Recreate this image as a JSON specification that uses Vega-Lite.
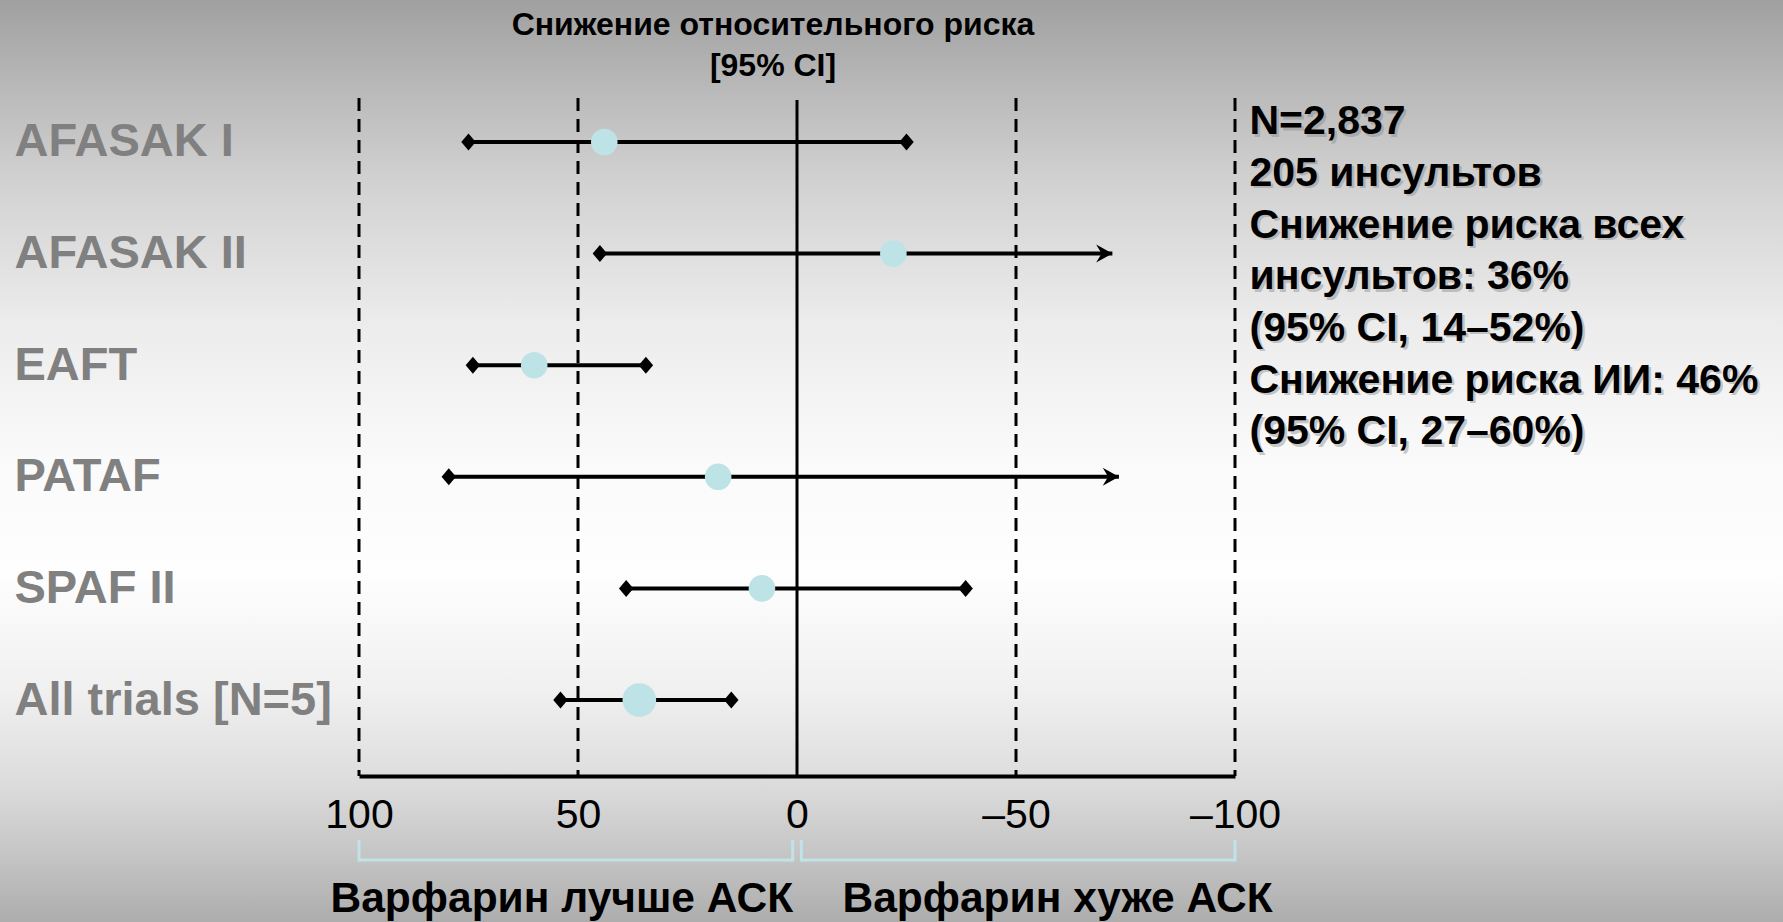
{
  "$schema": "https://vega.github.io/schema/vega-lite/v6.json",
  "width": 876,
  "height": 646,
  "autosize": {"type": "none"},
  "padding": {"left": 359, "top": 98, "right": 548, "bottom": 178},
  "config": {
    "font": "Liberation Sans",
    "view": {"stroke": null}
  },
  "title": {
    "text": ["Снижение относительного риска", "[95% CI]"],
    "font": "Liberation Sans",
    "fontSize": 32,
    "fontWeight": "bold",
    "color": "#000000",
    "anchor": "middle",
    "frame": "group",
    "lineHeight": 40.7,
    "offset": -83,
    "dx": -24
  },
  "datasets": {
    "trials": [
      {"trial": "AFASAK I", "est": 44, "lo": 75, "hi": -25, "open": false},
      {"trial": "AFASAK II", "est": -22, "lo": 45, "hi": -72, "open": true},
      {"trial": "EAFT", "est": 60, "lo": 74, "hi": 34.5, "open": false},
      {"trial": "PATAF", "est": 18, "lo": 79.5, "hi": -73.5, "open": true},
      {"trial": "SPAF II", "est": 8, "lo": 39, "hi": -38.5, "open": false},
      {"trial": "All trials [N=5]", "est": 36, "lo": 54, "hi": 15, "open": false}
    ],
    "refs": [{"v": 100}, {"v": 50}, {"v": -50}, {"v": -100}],
    "brackets": [{"from": 100, "to": 1}, {"from": -1, "to": -100}],
    "one": [{}]
  },
  "data": {"name": "trials"},
  "layer": [
    {
      "data": {"name": "one"},
      "mark": {
        "type": "rect",
        "xOffset": -359, "x2Offset": 548, "yOffset": -98, "y2Offset": 178,
        "fill": {
          "gradient": "linear", "x1": 0, "y1": 0, "x2": 0, "y2": 1,
          "stops": [
            {"offset": 0, "color": "#a0a0a0"},
            {"offset": 0.1, "color": "#bababa"},
            {"offset": 0.2, "color": "#d2d2d2"},
            {"offset": 0.35, "color": "#ececec"},
            {"offset": 0.5, "color": "#fafafa"},
            {"offset": 0.62, "color": "#fefefe"},
            {"offset": 0.75, "color": "#f0f0f0"},
            {"offset": 0.85, "color": "#dcdcdc"},
            {"offset": 0.93, "color": "#c4c4c4"},
            {"offset": 1, "color": "#adadad"}
          ]
        }
      },
      "encoding": {
        "x": {"value": 0},
        "x2": {"value": "width"},
        "y": {"value": 0},
        "y2": {"value": "height"}
      }
    },
    {
      "data": {"name": "refs"},
      "mark": {"type": "rule", "color": "#000000", "strokeWidth": 3, "strokeDash": [13, 8], "yOffset": -44, "y2Offset": 76},
      "encoding": {
        "x": {"field": "v", "type": "quantitative",
          "scale": {"domain": [100, -100], "nice": false, "zero": false},
          "axis": {"orient": "bottom", "zindex": 2, "offset": 32, "values": [100, 50, 0, -50, -100], "labelExpr": "datum.value < 0 ? '–' + (-datum.value) : '' + datum.value", "labelFont": "Liberation Sans", "labelFontSize": 41, "labelColor": "#000000", "labelPadding": 19, "ticks": false, "grid": false, "domainColor": "#000000", "domainWidth": 4, "title": null, "labelFlush": false, "labelOverlap": false}},
        "y": {"datum": "AFASAK I", "type": "nominal",
          "scale": {"type": "point", "domain": ["AFASAK I", "AFASAK II", "EAFT", "PATAF", "SPAF II", "All trials [N=5]"], "padding": 0.394},
          "axis": {"orient": "left", "zindex": 2, "labelAlign": "left", "labelPadding": 345, "ticks": false, "domain": false, "grid": false, "title": null, "labelFont": "Liberation Sans", "labelFontSize": 47, "labelFontWeight": "bold", "labelColor": "#808080", "labelLimit": 0, "labelBaseline": "middle"}},
        "y2": {"datum": "All trials [N=5]"}
      }
    },
    {
      "data": {"name": "one"},
      "mark": {"type": "rule", "color": "#000000", "strokeWidth": 3, "yOffset": -42, "y2Offset": 76},
      "encoding": {
        "x": {"datum": 0, "type": "quantitative",
          "axis": {"orient": "bottom", "zindex": 2, "offset": 32, "values": [100, 50, 0, -50, -100], "labelExpr": "datum.value < 0 ? '–' + (-datum.value) : '' + datum.value", "labelFont": "Liberation Sans", "labelFontSize": 41, "labelColor": "#000000", "labelPadding": 19, "ticks": false, "grid": false, "domainColor": "#000000", "domainWidth": 4, "title": null, "labelFlush": false, "labelOverlap": false}},
        "y": {"datum": "AFASAK I", "type": "nominal",
          "axis": {"orient": "left", "zindex": 2, "labelAlign": "left", "labelPadding": 345, "ticks": false, "domain": false, "grid": false, "title": null, "labelFont": "Liberation Sans", "labelFontSize": 47, "labelFontWeight": "bold", "labelColor": "#808080", "labelLimit": 0, "labelBaseline": "middle"}},
        "y2": {"datum": "All trials [N=5]"}
      }
    },
    {
      "mark": {"type": "rule", "color": "#000000", "strokeWidth": 4},
      "encoding": {
        "y": {"field": "trial", "type": "nominal", "sort": null,
          "axis": {"orient": "left", "zindex": 2, "labelAlign": "left", "labelPadding": 345, "ticks": false, "domain": false, "grid": false, "title": null, "labelFont": "Liberation Sans", "labelFontSize": 47, "labelFontWeight": "bold", "labelColor": "#808080", "labelLimit": 0, "labelBaseline": "middle"}},
        "x": {"field": "lo", "type": "quantitative",
          "axis": {"orient": "bottom", "zindex": 2, "offset": 32, "values": [100, 50, 0, -50, -100], "labelExpr": "datum.value < 0 ? '–' + (-datum.value) : '' + datum.value", "labelFont": "Liberation Sans", "labelFontSize": 41, "labelColor": "#000000", "labelPadding": 19, "ticks": false, "grid": false, "domainColor": "#000000", "domainWidth": 4, "title": null, "labelFlush": false, "labelOverlap": false}},
        "x2": {"field": "hi"}
      }
    },
    {
      "mark": {"type": "point", "shape": "M0,-1L0.85,0L0,1L-0.85,0Z", "filled": true, "color": "#000000", "opacity": 1, "size": 289},
      "encoding": {
        "y": {"field": "trial", "type": "nominal", "sort": null,
          "axis": {"orient": "left", "zindex": 2, "labelAlign": "left", "labelPadding": 345, "ticks": false, "domain": false, "grid": false, "title": null, "labelFont": "Liberation Sans", "labelFontSize": 47, "labelFontWeight": "bold", "labelColor": "#808080", "labelLimit": 0, "labelBaseline": "middle"}},
        "x": {"field": "lo", "type": "quantitative",
          "axis": {"orient": "bottom", "zindex": 2, "offset": 32, "values": [100, 50, 0, -50, -100], "labelExpr": "datum.value < 0 ? '–' + (-datum.value) : '' + datum.value", "labelFont": "Liberation Sans", "labelFontSize": 41, "labelColor": "#000000", "labelPadding": 19, "ticks": false, "grid": false, "domainColor": "#000000", "domainWidth": 4, "title": null, "labelFlush": false, "labelOverlap": false}}
      }
    },
    {
      "transform": [{"filter": "!datum.open"}],
      "mark": {"type": "point", "shape": "M0,-1L0.85,0L0,1L-0.85,0Z", "filled": true, "color": "#000000", "opacity": 1, "size": 289},
      "encoding": {
        "y": {"field": "trial", "type": "nominal", "sort": null,
          "axis": {"orient": "left", "zindex": 2, "labelAlign": "left", "labelPadding": 345, "ticks": false, "domain": false, "grid": false, "title": null, "labelFont": "Liberation Sans", "labelFontSize": 47, "labelFontWeight": "bold", "labelColor": "#808080", "labelLimit": 0, "labelBaseline": "middle"}},
        "x": {"field": "hi", "type": "quantitative",
          "axis": {"orient": "bottom", "zindex": 2, "offset": 32, "values": [100, 50, 0, -50, -100], "labelExpr": "datum.value < 0 ? '–' + (-datum.value) : '' + datum.value", "labelFont": "Liberation Sans", "labelFontSize": 41, "labelColor": "#000000", "labelPadding": 19, "ticks": false, "grid": false, "domainColor": "#000000", "domainWidth": 4, "title": null, "labelFlush": false, "labelOverlap": false}}
      }
    },
    {
      "transform": [{"filter": "datum.open"}],
      "mark": {"type": "point", "shape": "M0,0L-1.8,-1L-1.2,0L-1.8,1Z", "filled": true, "color": "#000000", "opacity": 1, "size": 324},
      "encoding": {
        "y": {"field": "trial", "type": "nominal", "sort": null,
          "axis": {"orient": "left", "zindex": 2, "labelAlign": "left", "labelPadding": 345, "ticks": false, "domain": false, "grid": false, "title": null, "labelFont": "Liberation Sans", "labelFontSize": 47, "labelFontWeight": "bold", "labelColor": "#808080", "labelLimit": 0, "labelBaseline": "middle"}},
        "x": {"field": "hi", "type": "quantitative",
          "axis": {"orient": "bottom", "zindex": 2, "offset": 32, "values": [100, 50, 0, -50, -100], "labelExpr": "datum.value < 0 ? '–' + (-datum.value) : '' + datum.value", "labelFont": "Liberation Sans", "labelFontSize": 41, "labelColor": "#000000", "labelPadding": 19, "ticks": false, "grid": false, "domainColor": "#000000", "domainWidth": 4, "title": null, "labelFlush": false, "labelOverlap": false}}
      }
    },
    {
      "mark": {"type": "circle", "color": "#bde3e6", "opacity": 1},
      "encoding": {
        "y": {"field": "trial", "type": "nominal", "sort": null,
          "axis": {"orient": "left", "zindex": 2, "labelAlign": "left", "labelPadding": 345, "ticks": false, "domain": false, "grid": false, "title": null, "labelFont": "Liberation Sans", "labelFontSize": 47, "labelFontWeight": "bold", "labelColor": "#808080", "labelLimit": 0, "labelBaseline": "middle"}},
        "x": {"field": "est", "type": "quantitative",
          "axis": {"orient": "bottom", "zindex": 2, "offset": 32, "values": [100, 50, 0, -50, -100], "labelExpr": "datum.value < 0 ? '–' + (-datum.value) : '' + datum.value", "labelFont": "Liberation Sans", "labelFontSize": 41, "labelColor": "#000000", "labelPadding": 19, "ticks": false, "grid": false, "domainColor": "#000000", "domainWidth": 4, "title": null, "labelFlush": false, "labelOverlap": false}},
        "size": {"condition": {"test": "datum.trial === 'All trials [N=5]'", "value": 1134}, "value": 707}
      }
    },
    {
      "data": {"name": "brackets"},
      "mark": {"type": "rule", "color": "#bfe3e6", "strokeWidth": 3, "yOffset": 160},
      "encoding": {
        "x": {"field": "from", "type": "quantitative",
          "axis": {"orient": "bottom", "zindex": 2, "offset": 32, "values": [100, 50, 0, -50, -100], "labelExpr": "datum.value < 0 ? '–' + (-datum.value) : '' + datum.value", "labelFont": "Liberation Sans", "labelFontSize": 41, "labelColor": "#000000", "labelPadding": 19, "ticks": false, "grid": false, "domainColor": "#000000", "domainWidth": 4, "title": null, "labelFlush": false, "labelOverlap": false}},
        "x2": {"field": "to"},
        "y": {"datum": "All trials [N=5]", "type": "nominal",
          "axis": {"orient": "left", "zindex": 2, "labelAlign": "left", "labelPadding": 345, "ticks": false, "domain": false, "grid": false, "title": null, "labelFont": "Liberation Sans", "labelFontSize": 47, "labelFontWeight": "bold", "labelColor": "#808080", "labelLimit": 0, "labelBaseline": "middle"}}
      }
    },
    {
      "data": {"name": "brackets"},
      "mark": {"type": "rule", "color": "#bfe3e6", "strokeWidth": 3, "yOffset": 140, "y2Offset": 161.5},
      "encoding": {
        "x": {"field": "from", "type": "quantitative",
          "axis": {"orient": "bottom", "zindex": 2, "offset": 32, "values": [100, 50, 0, -50, -100], "labelExpr": "datum.value < 0 ? '–' + (-datum.value) : '' + datum.value", "labelFont": "Liberation Sans", "labelFontSize": 41, "labelColor": "#000000", "labelPadding": 19, "ticks": false, "grid": false, "domainColor": "#000000", "domainWidth": 4, "title": null, "labelFlush": false, "labelOverlap": false}},
        "y": {"datum": "All trials [N=5]", "type": "nominal",
          "axis": {"orient": "left", "zindex": 2, "labelAlign": "left", "labelPadding": 345, "ticks": false, "domain": false, "grid": false, "title": null, "labelFont": "Liberation Sans", "labelFontSize": 47, "labelFontWeight": "bold", "labelColor": "#808080", "labelLimit": 0, "labelBaseline": "middle"}},
        "y2": {"datum": "All trials [N=5]"}
      }
    },
    {
      "data": {"name": "brackets"},
      "mark": {"type": "rule", "color": "#bfe3e6", "strokeWidth": 3, "yOffset": 140, "y2Offset": 161.5},
      "encoding": {
        "x": {"field": "to", "type": "quantitative",
          "axis": {"orient": "bottom", "zindex": 2, "offset": 32, "values": [100, 50, 0, -50, -100], "labelExpr": "datum.value < 0 ? '–' + (-datum.value) : '' + datum.value", "labelFont": "Liberation Sans", "labelFontSize": 41, "labelColor": "#000000", "labelPadding": 19, "ticks": false, "grid": false, "domainColor": "#000000", "domainWidth": 4, "title": null, "labelFlush": false, "labelOverlap": false}},
        "y": {"datum": "All trials [N=5]", "type": "nominal",
          "axis": {"orient": "left", "zindex": 2, "labelAlign": "left", "labelPadding": 345, "ticks": false, "domain": false, "grid": false, "title": null, "labelFont": "Liberation Sans", "labelFontSize": 47, "labelFontWeight": "bold", "labelColor": "#808080", "labelLimit": 0, "labelBaseline": "middle"}},
        "y2": {"datum": "All trials [N=5]"}
      }
    },
    {
      "data": {"name": "one"},
      "mark": {
        "type": "text", "align": "left", "baseline": "alphabetic", "dx": 17, "dy": -5.3,
        "font": "Liberation Sans", "fontSize": 41, "fontWeight": "bold", "color": "#8c8c8c", "opacity": 0.45, "lineHeight": 51.7,
        "text": ["N=2,837", "205 инсультов", "Снижение риска всех", "инсультов: 36%", "(95% CI, 14–52%)", "Снижение риска ИИ: 46%", "(95% CI, 27–60%)"]
      },
      "encoding": {
        "x": {"datum": -100, "type": "quantitative",
          "axis": {"orient": "bottom", "zindex": 2, "offset": 32, "values": [100, 50, 0, -50, -100], "labelExpr": "datum.value < 0 ? '–' + (-datum.value) : '' + datum.value", "labelFont": "Liberation Sans", "labelFontSize": 41, "labelColor": "#000000", "labelPadding": 19, "ticks": false, "grid": false, "domainColor": "#000000", "domainWidth": 4, "title": null, "labelFlush": false, "labelOverlap": false}},
        "y": {"datum": "AFASAK I", "type": "nominal",
          "axis": {"orient": "left", "zindex": 2, "labelAlign": "left", "labelPadding": 345, "ticks": false, "domain": false, "grid": false, "title": null, "labelFont": "Liberation Sans", "labelFontSize": 47, "labelFontWeight": "bold", "labelColor": "#808080", "labelLimit": 0, "labelBaseline": "middle"}}
      }
    },
    {
      "data": {"name": "one"},
      "mark": {
        "type": "text", "align": "left", "baseline": "alphabetic", "dx": 14.5, "dy": -7.8,
        "font": "Liberation Sans", "fontSize": 41, "fontWeight": "bold", "color": "#000000", "lineHeight": 51.7,
        "text": ["N=2,837", "205 инсультов", "Снижение риска всех", "инсультов: 36%", "(95% CI, 14–52%)", "Снижение риска ИИ: 46%", "(95% CI, 27–60%)"]
      },
      "encoding": {
        "x": {"datum": -100, "type": "quantitative",
          "axis": {"orient": "bottom", "zindex": 2, "offset": 32, "values": [100, 50, 0, -50, -100], "labelExpr": "datum.value < 0 ? '–' + (-datum.value) : '' + datum.value", "labelFont": "Liberation Sans", "labelFontSize": 41, "labelColor": "#000000", "labelPadding": 19, "ticks": false, "grid": false, "domainColor": "#000000", "domainWidth": 4, "title": null, "labelFlush": false, "labelOverlap": false}},
        "y": {"datum": "AFASAK I", "type": "nominal",
          "axis": {"orient": "left", "zindex": 2, "labelAlign": "left", "labelPadding": 345, "ticks": false, "domain": false, "grid": false, "title": null, "labelFont": "Liberation Sans", "labelFontSize": 47, "labelFontWeight": "bold", "labelColor": "#808080", "labelLimit": 0, "labelBaseline": "middle"}}
      }
    },
    {
      "data": {"name": "one"},
      "mark": {"type": "text", "align": "center", "baseline": "alphabetic", "dy": 212, "font": "Liberation Sans", "fontSize": 42.5, "fontWeight": "bold", "color": "#000000", "text": "Варфарин лучше АСК"},
      "encoding": {
        "x": {"datum": 53.7, "type": "quantitative",
          "axis": {"orient": "bottom", "zindex": 2, "offset": 32, "values": [100, 50, 0, -50, -100], "labelExpr": "datum.value < 0 ? '–' + (-datum.value) : '' + datum.value", "labelFont": "Liberation Sans", "labelFontSize": 41, "labelColor": "#000000", "labelPadding": 19, "ticks": false, "grid": false, "domainColor": "#000000", "domainWidth": 4, "title": null, "labelFlush": false, "labelOverlap": false}},
        "y": {"datum": "All trials [N=5]", "type": "nominal",
          "axis": {"orient": "left", "zindex": 2, "labelAlign": "left", "labelPadding": 345, "ticks": false, "domain": false, "grid": false, "title": null, "labelFont": "Liberation Sans", "labelFontSize": 47, "labelFontWeight": "bold", "labelColor": "#808080", "labelLimit": 0, "labelBaseline": "middle"}}
      }
    },
    {
      "data": {"name": "one"},
      "mark": {"type": "text", "align": "center", "baseline": "alphabetic", "dy": 212, "font": "Liberation Sans", "fontSize": 42.5, "fontWeight": "bold", "color": "#000000", "text": "Варфарин хуже АСК"},
      "encoding": {
        "x": {"datum": -59.5, "type": "quantitative",
          "axis": {"orient": "bottom", "zindex": 2, "offset": 32, "values": [100, 50, 0, -50, -100], "labelExpr": "datum.value < 0 ? '–' + (-datum.value) : '' + datum.value", "labelFont": "Liberation Sans", "labelFontSize": 41, "labelColor": "#000000", "labelPadding": 19, "ticks": false, "grid": false, "domainColor": "#000000", "domainWidth": 4, "title": null, "labelFlush": false, "labelOverlap": false}},
        "y": {"datum": "All trials [N=5]", "type": "nominal",
          "axis": {"orient": "left", "zindex": 2, "labelAlign": "left", "labelPadding": 345, "ticks": false, "domain": false, "grid": false, "title": null, "labelFont": "Liberation Sans", "labelFontSize": 47, "labelFontWeight": "bold", "labelColor": "#808080", "labelLimit": 0, "labelBaseline": "middle"}}
      }
    }
  ]
}
